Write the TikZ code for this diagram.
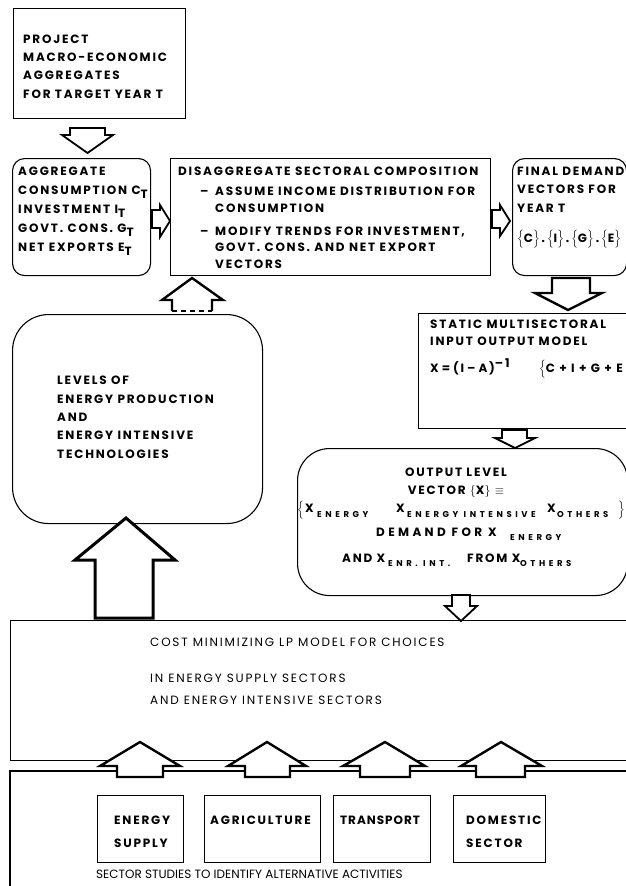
\documentclass[tikz,border=0pt]{standalone}
\usepackage{fontspec}
\usepackage{graphicx}
\setmainfont{Poppins}[LetterSpace=15]
\newfontfamily\ssfont{Poppins}
\newfontfamily\subfont{Poppins}[LetterSpace=42]
\tikzset{
  box/.style={draw, line width=1.1pt, anchor=north west, inner sep=0pt},
  rbox/.style={box, rounded corners=12pt},
  barrow/.style={draw, line width=2.4pt, line join=miter, fill=white},
  txt/.style={anchor=base west, inner sep=0pt, align=left, font=\fontsize{12}{18.3}\selectfont\bfseries},
  ctxt/.style={anchor=base, inner sep=0pt, align=center, font=\fontsize{12}{18}\selectfont\bfseries},
  ltxt/.style={anchor=base west, inner sep=0pt, align=left, font=\fontsize{12}{22}\selectfont},
  stxt/.style={anchor=base west, inner sep=0pt, font=\subfont\fontsize{8.5}{8}\selectfont\bfseries},
}
\newcommand\subT{\raisebox{-4.5pt}{T}}
\begin{document}
\begin{tikzpicture}[x=1pt,y=-1pt]
\useasboundingbox (0,0) rectangle (625,886);
% boxes
\node[box, minimum width=172pt, minimum height=110pt] (proj) at (13,8) {};
\node[rbox, minimum width=138pt, minimum height=117pt] (agg) at (12,158) {};
\node[box, minimum width=320pt, minimum height=117pt] (dis) at (170,158) {};
\node[rbox, minimum width=114pt, minimum height=117pt] (fin) at (512,158) {};
\node[box, minimum width=210pt, minimum height=115pt] (io) at (418,313) {};
\node[box, rounded corners=32pt, minimum width=330pt, minimum height=147pt] (out) at (297,448) {};
\node[box, rounded corners=36pt, minimum width=250pt, minimum height=209pt] (lev) at (12,314) {};
\node[box, minimum width=625pt, minimum height=140pt] (lp) at (10,620) {};
\draw[line width=1.1pt] (10,900) coordinate (ssbl) -- (10,771) coordinate (sstl) -- (630,771) coordinate (sstr);
\node[box, minimum width=86pt, minimum height=67pt] (es) at (97,795) {};
\node[box, minimum width=116pt, minimum height=67pt] (ag) at (204,795) {};
\node[box, minimum width=97pt, minimum height=67pt] (tr) at (333,795) {};
\node[box, minimum width=92pt, minimum height=67pt] (dm) at (453,795) {};
% texts
\node[txt] (tproj) at (23,98) {PROJECT\\MACRO-ECONOMIC\\AGGREGATES\\FOR TARGET YEAR T};
\node[txt, font=\fontsize{12}{19}\selectfont\bfseries] (tagg) at (18,251) {AGGREGATE\\CONSUMPTION C\subT\\INVESTMENT I\subT\\GOVT. CONS. G\subT\\NET EXPORTS E\subT};
\node[txt] (tdis) at (178,175) {DISAGGREGATE SECTORAL COMPOSITION};
\node[txt] (dash1) at (200,195) {--};
\node[txt, font=\fontsize{12}{17}\selectfont\bfseries] (tdis1) at (215,212) {ASSUME INCOME DISTRIBUTION FOR\\CONSUMPTION};
\node[txt] (dash2) at (200,235) {--};
\node[txt, font=\fontsize{12}{16.5}\selectfont\bfseries] (tdis2) at (215,268) {MODIFY TRENDS FOR INVESTMENT,\\GOVT. CONS. AND NET EXPORT\\VECTORS};
\node[txt, font=\fontsize{12}{18.5}\selectfont\bfseries] (tfin) at (517,212) {FINAL DEMAND\\VECTORS FOR\\YEAR T};
\node[txt] (tfin2) at (517,242) {$\Big\{$C$\Big\}$\,.\,$\Big\{$I$\Big\}$\,.\,$\Big\{$G$\Big\}$\,.\,$\Big\{$E$\Big\}$};
\node[txt, font=\fontsize{12}{17}\selectfont\bfseries] (tio) at (430,345) {STATIC MULTISECTORAL\\INPUT OUTPUT MODEL};
\node[txt] (tio2) at (430,372) {X\hspace{3pt}=\hspace{3pt}(I\hspace{3pt}--\hspace{3pt}A)\raisebox{5pt}{--1}};
\node[txt] (tio3) at (539,372) {$\Big\{$C + I + G + E};
\node[ctxt] (tout1) at (456,494) {OUTPUT LEVEL\\VECTOR $\big\{$X$\big\}$ $\equiv$};
\node[txt] (ob1) at (297,513) {$\Big\{$};
\node[txt] (ox1) at (305,512) {X};
\node[stxt] (os1) at (317,517) {ENERGY};
\node[txt] (ox2) at (396,512) {X};
\node[stxt] (os2) at (407,517) {ENERGY INTENSIVE};
\node[txt] (ox3) at (547,512) {X};
\node[stxt] (os3) at (557,517) {OTHERS};
\node[txt] (ob2) at (618,513) {$\Big\}$};
\node[txt, font=\fontsize{12}{18}\selectfont\bfseries\addfontfeature{LetterSpace=28}] (tout3) at (376,536) {DEMAND FOR X};
\node[stxt] (os4) at (510,540) {ENERGY};
\node[txt] (tout4) at (342,562) {AND X};
\node[stxt] (os5) at (388,566) {ENR. INT.};
\node[txt] (tout5) at (467,562) {FROM X};
\node[stxt] (os6) at (520,566) {OTHERS};
\node[txt] (tlev) at (57,458) {LEVELS OF\\ENERGY PRODUCTION\\AND\\ENERGY INTENSIVE\\TECHNOLOGIES};
\node[ltxt] (tlp1) at (150,646) {COST MINIMIZING LP MODEL FOR CHOICES};
\node[ltxt] (tlp2) at (150,704) {IN ENERGY SUPPLY SECTORS\\AND ENERGY INTENSIVE SECTORS};
\node[txt, font=\fontsize{12}{23}\selectfont\bfseries] (tes) at (114,847) {ENERGY\\SUPPLY};
\node[txt] (tag) at (210,824) {AGRICULTURE};
\node[txt, font=\fontsize{12}{18}\selectfont\bfseries\addfontfeature{LetterSpace=8}] (ttr) at (340,824) {TRANSPORT};
\node[txt, font=\fontsize{12}{23}\selectfont\bfseries] (tdm) at (466,847) {DOMESTIC\\SECTOR};
\node[ltxt, font=\ssfont\fontsize{12}{14}\selectfont] (tss) at (96,878) {SECTOR STUDIES TO IDENTIFY ALTERNATIVE ACTIVITIES};
% block arrows
\draw[barrow, line width=1.8pt] (70,128) -- (105,128) -- (105,135) -- (113,135) -- (87.5,153) -- (62,135) -- (70,135) -- cycle;
\draw[barrow, line width=1.8pt] (152,210) -- (160,210) -- (160,205) -- (170,221) -- (160,237) -- (160,228) -- (152,228) -- cycle;
\draw[barrow, line width=1.8pt] (492,210) -- (500,210) -- (500,205) -- (510,221) -- (500,236) -- (500,228) -- (492,228) -- cycle;
\draw[barrow] (552,278) -- (590,278) -- (590,293) -- (602,293) -- (568,310) -- (535,293) -- (552,293) -- cycle;
\draw[barrow, line width=1.8pt] (502,430) -- (527,430) -- (527,438) -- (535,438) -- (515,448) -- (495,438) -- (502,438) -- cycle;
\draw[barrow, line width=1.8pt] (452,595) -- (470,595) -- (470,606) -- (477,606) -- (461,621) -- (445,606) -- (452,606) -- cycle;
\fill[white] (172,311) -- (172,300) -- (162,300) -- (192,278) -- (223,300) -- (212,300) -- (212,311) -- cycle;
\draw[barrow] (172,311) -- (172,300) -- (162,300) -- (192,278) -- (223,300) -- (212,300) -- (212,311);
\draw[line width=2.4pt, dash pattern=on 5pt off 4pt] (172,311) -- (212,311);
\draw[barrow, line width=3pt] (95,618) -- (95,560) -- (75,560) -- (126,518) -- (175,560) -- (153,560) -- (153,618) -- cycle;
\draw[barrow] (117,777) -- (117,766) -- (100,766) -- (140,742) -- (180,766) -- (163,766) -- (163,777) -- cycle;
\draw[barrow] (245,777) -- (245,766) -- (228,766) -- (267,742) -- (306,766) -- (290,766) -- (290,777) -- cycle;
\draw[barrow] (360,777) -- (360,766) -- (343,766) -- (385,742) -- (425,766) -- (410,766) -- (410,777) -- cycle;
\draw[barrow] (476,777) -- (476,766) -- (461,766) -- (501,742) -- (542,766) -- (525,766) -- (525,777) -- cycle;
\end{tikzpicture}
\end{document}
